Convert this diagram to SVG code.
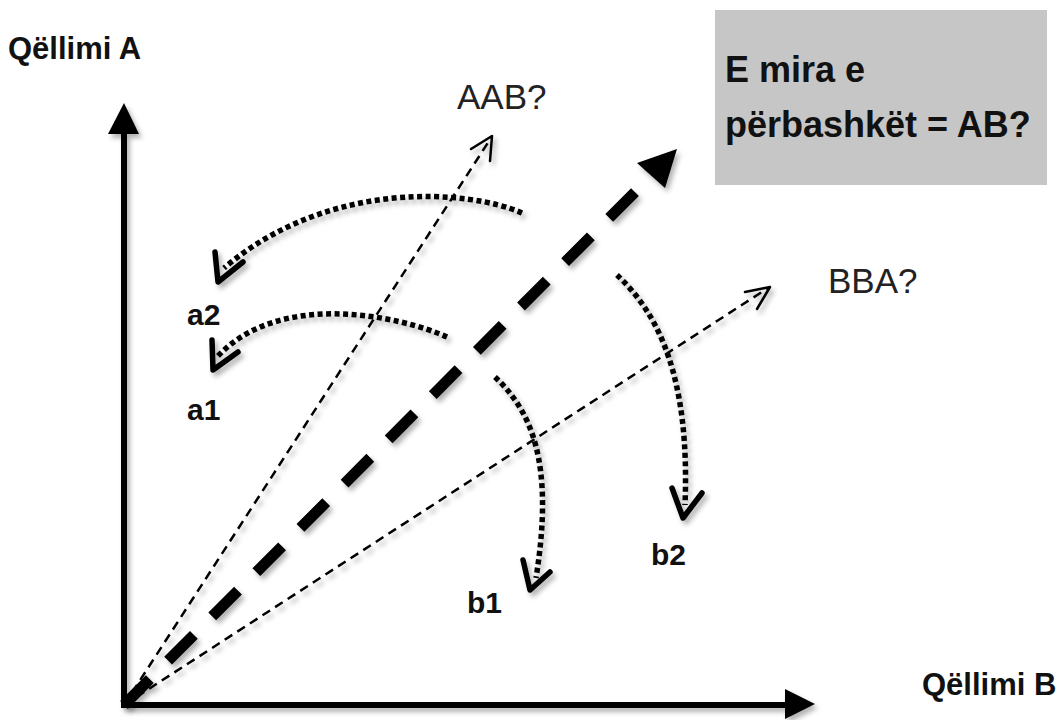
<svg xmlns="http://www.w3.org/2000/svg" width="1059" height="720" viewBox="0 0 1059 720">
<defs>
<filter id="sh" x="-20%" y="-20%" width="140%" height="140%">
<feDropShadow dx="3" dy="4" stdDeviation="2.5" flood-color="#000" flood-opacity="0.3"/>
</filter>
<style>
.bold{font-family:"Liberation Sans",Arial,sans-serif;font-weight:bold;fill:#111}
.reg{font-family:"Liberation Sans",Arial,sans-serif;fill:#222}
.axis{stroke:#000;stroke-width:6;fill:none}
.thin{stroke:#000;stroke-width:2.5;fill:none;stroke-dasharray:9 6}
.chev{stroke:#000;stroke-width:2.5;fill:none;stroke-linecap:round;stroke-linejoin:round}
.dot{stroke:#000;stroke-width:5.5;fill:none;stroke-dasharray:5 3.5}
.chevb{stroke:#000;stroke-width:5.5;fill:none;stroke-linecap:round;stroke-linejoin:round}
.big{stroke:#000;stroke-width:11;fill:none;stroke-dasharray:36.5 26}
</style>
</defs>
<rect width="1059" height="720" fill="#fff"/>

<g id="box">
<rect x="715" y="10" width="332" height="175" fill="#c6c6c6"/>
<text class="bold" x="725" y="82" font-size="36">E mira e</text>
<text class="bold" x="725" y="137" font-size="36">përbashkët = AB?</text>
</g>

<g id="axes" filter="url(#sh)">
<line class="axis" x1="124" y1="708" x2="124" y2="130"/>
<polygon points="124,103 108,134 139,134" fill="#000"/>
<line class="axis" x1="121" y1="705" x2="788" y2="705"/>
<polygon points="815,704 785,689 785,719" fill="#000"/>
</g>

<g id="connectors" filter="url(#sh)">
<g id="vec-aab">
<line class="thin" x1="124" y1="705" x2="491" y2="138"/>
<path class="chev" d="M471,149 L492,136 L490,161"/>
</g>
<g id="vec-bba">
<line class="thin" x1="124" y1="705" x2="768" y2="288"/>
<path class="chev" d="M745,292 L770,287 L757,309"/>
</g>
<g id="vec-ab">
<line class="big" x1="124" y1="705" x2="651" y2="176"/>
<polygon points="677,149 637,163 665,188" fill="#000"/>
</g>
<g id="arc-a2">
<path class="dot" d="M522,213 C470,190 330,178 224,268"/>
<path class="chevb" d="M215,252 L218,282 L243,262"/>
</g>
<g id="arc-a1">
<path class="dot" d="M447,337 C400,316 280,290 218,356"/>
<path class="chevb" d="M212,340 L213,370 L238,352"/>
</g>
<g id="arc-b2">
<path class="dot" d="M617,275 C660,315 690,380 685,505"/>
<path class="chevb" d="M672,488 L683,518 L702,493"/>
</g>
<g id="arc-b1">
<path class="dot" d="M495,377 C530,410 555,460 536,578"/>
<path class="chevb" d="M523,560 L530,590 L550,572"/>
</g>
</g>

<g id="labels">
<text class="bold" x="8" y="59" font-size="31">Qëllimi A</text>
<text class="bold" x="922" y="695" font-size="31">Qëllimi B</text>
<text class="reg" x="457" y="109" font-size="35">AAB?</text>
<text class="reg" x="828" y="293" font-size="35">BBA?</text>
<text class="bold" x="187" y="325" font-size="30">a2</text>
<text class="bold" x="187" y="420" font-size="30">a1</text>
<text class="bold" x="651" y="565" font-size="30">b2</text>
<text class="bold" x="467" y="613" font-size="30">b1</text>
</g>
</svg>
